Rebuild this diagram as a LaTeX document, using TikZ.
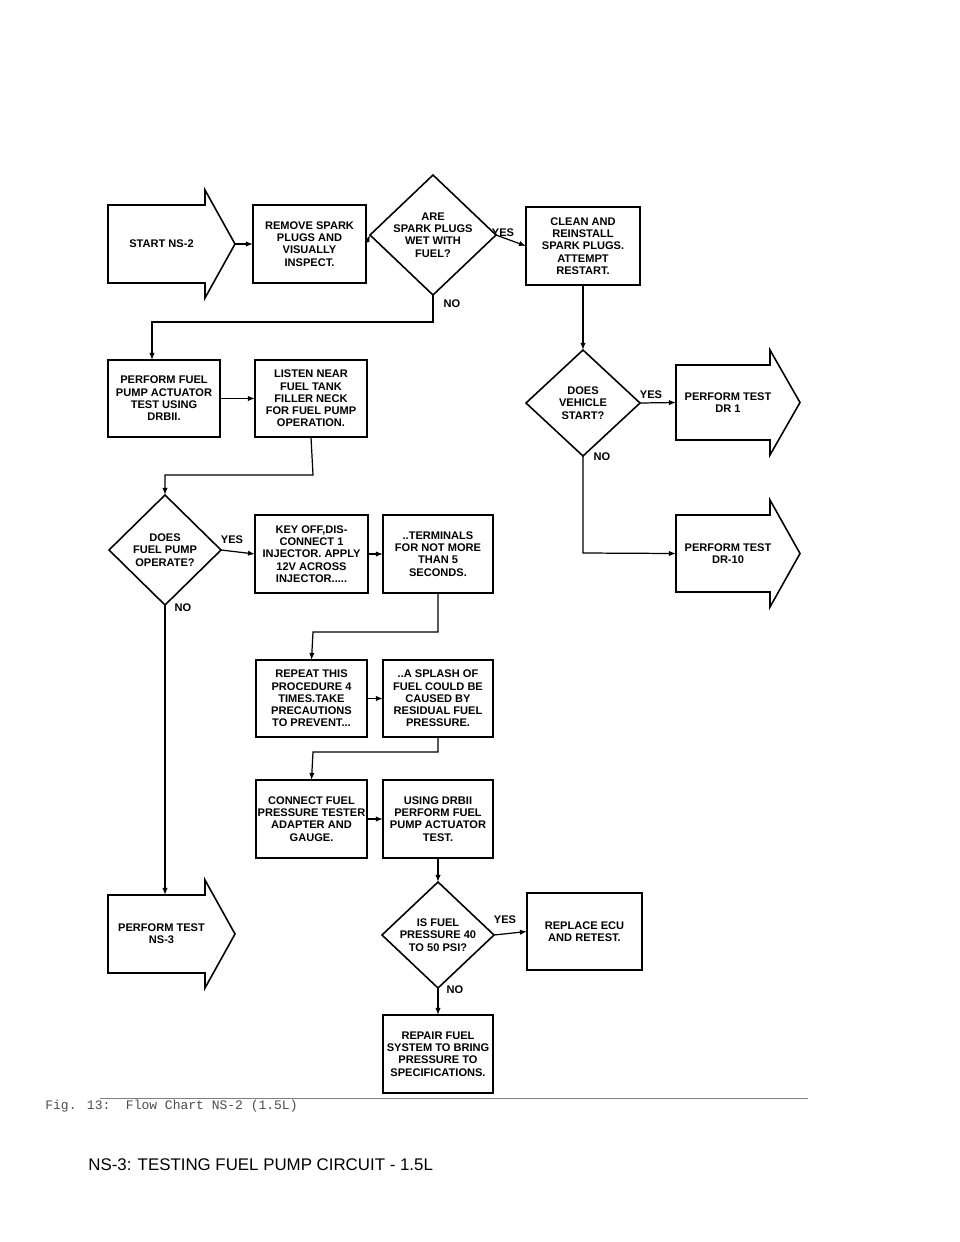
\documentclass[tikz,border=0pt]{standalone}
\usepackage{fontspec}
\setmainfont{Liberation Sans}
\newfontfamily\monof{Liberation Mono}
\usetikzlibrary{arrows.meta}
\begin{document}
\begin{tikzpicture}[x=0.02cm,y=-0.02cm,
  lbl/.style={font=\fontsize{6.3}{7}\selectfont\bfseries,align=center,inner sep=0pt},
  bx/.style={draw,line width=0.9pt},
  arr/.style={line width=0.7pt,-{Latex[length=4pt,width=3pt]}},
  ln/.style={line width=0.7pt}]
\useasboundingbox (0,0) rectangle (960,1242);
\newcommand\bigarrow[6]{% name x1 x2 y1 y2 text
  \draw[bx] (#2,#4) -- (#3,#4) -- (#3,#4-15) -- (#3+30,{(#4+#5)/2}) -- (#3,#5+15) -- (#3,#5) -- (#2,#5) -- cycle;
  \node[lbl] (#1) at ({(#2+#3)/2+5},{(#4+#5)/2}) {#6};
  \coordinate (#1t) at ({(#2+#3)/2},#4);
  \coordinate (#1p) at (#3+30,{(#4+#5)/2});
  \coordinate (#1l) at (#2,{(#4+#5)/2});}
\newcommand\fbx[6]{%
  \draw[bx] (#2,#4) rectangle (#3,#5);
  \node[lbl] (#1) at ({(#2+#3)/2},{(#4+#5)/2}) {#6};
  \coordinate (#1t) at ({(#2+#3)/2},#4);
  \coordinate (#1b) at ({(#2+#3)/2},#5);
  \coordinate (#1l) at (#2,{(#4+#5)/2});
  \coordinate (#1r) at (#3,{(#4+#5)/2});}
\newcommand\dia[6]{% name cx cy hw hh text
  \draw[bx] (#2-#4,#3) -- (#2,#3-#5) -- (#2+#4,#3) -- (#2,#3+#5) -- cycle;
  \node[lbl] (#1) at (#2,#3) {#6};
  \coordinate (#1t) at (#2,#3-#5);
  \coordinate (#1b) at (#2,#3+#5);
  \coordinate (#1l) at (#2-#4,#3);
  \coordinate (#1r) at (#2+#4,#3);}
\bigarrow{st}{108}{205}{205}{283}{START NS-2}
\fbx{rm}{253}{366}{205}{283}{REMOVE SPARK\\PLUGS AND\\VISUALLY\\INSPECT.}
\dia{d1}{433}{235}{63}{60}{ARE\\SPARK PLUGS\\WET WITH\\FUEL?}
\fbx{cl}{526}{640}{207}{285}{CLEAN AND\\REINSTALL\\SPARK PLUGS.\\ATTEMPT\\RESTART.}
\fbx{pf}{108}{220}{360}{437}{PERFORM FUEL\\PUMP ACTUATOR\\TEST USING\\DRBII.}
\fbx{li}{255}{367}{360}{437}{LISTEN NEAR\\FUEL TANK\\FILLER NECK\\FOR FUEL PUMP\\OPERATION.}
\dia{d2}{165}{550}{56}{55}{DOES\\FUEL PUMP\\OPERATE?}
\fbx{ko}{255}{368}{515}{593}{KEY OFF,DIS-\\CONNECT 1\\INJECTOR. APPLY\\12V ACROSS\\INJECTOR.....}
\fbx{te}{383}{493}{515}{593}{..TERMINALS\\FOR NOT MORE\\THAN 5\\SECONDS.}
\bigarrow{ns}{108}{205}{895}{973}{PERFORM TEST\\NS-3}
\fbx{rp}{256}{367}{660}{737}{REPEAT THIS\\PROCEDURE 4\\TIMES.TAKE\\PRECAUTIONS\\TO PREVENT...}
\fbx{sp}{383}{493}{660}{737}{..A SPLASH OF\\FUEL COULD BE\\CAUSED BY\\RESIDUAL FUEL\\PRESSURE.}
\fbx{co}{256}{367}{780}{858}{CONNECT FUEL\\PRESSURE TESTER\\ADAPTER AND\\GAUGE.}
\fbx{us}{383}{493}{780}{858}{USING DRBII\\PERFORM FUEL\\PUMP ACTUATOR\\TEST.}
\dia{d3}{438}{935}{56}{53}{IS FUEL\\PRESSURE 40\\TO 50 PSI?}
\fbx{re}{527}{642}{893}{970}{REPLACE ECU\\AND RETEST.}
\fbx{rf}{383}{493}{1015}{1093}{REPAIR FUEL\\SYSTEM TO BRING\\PRESSURE TO\\SPECIFICATIONS.}
\dia{d4}{583}{403}{57}{53}{DOES\\VEHICLE\\START?}
\bigarrow{t1}{676}{770}{365}{440}{PERFORM TEST\\DR 1}
\bigarrow{t10}{676}{770}{515}{592}{PERFORM TEST\\DR-10}
% connectors
\draw[arr] (stp) -- (rml);
\draw[arr] (rmr) -- (d1l);
\draw[arr] (d1r) -- (cll);
\draw[arr] (d1b) -- (433,322) -- (152,322) -- (152,360);
\draw[arr] (pfr) -- (lil);
\draw[arr] (lib) -- (313,475) -- (165,475) -- (d2t);
\draw[arr] (d2r) -- (kol);
\draw[arr] (kor) -- (tel);
\draw[arr] (d2b) -- (165,895);
\draw[arr] (teb) -- (438,632) -- (313,632) -- (rpt);
\draw[arr] (rpr) -- (spl);
\draw[arr] (spb) -- (438,752) -- (313,752) -- (cot);
\draw[arr] (cor) -- (usl);
\draw[arr] (usb) -- (d3t);
\draw[arr] (d3r) -- (rel);
\draw[arr] (d3b) -- (rft);
\draw[arr] (clb) -- (d4t);
\draw[arr] (d4r) -- (t1l);
\draw[arr] (d4b) -- (583,553) -- (t10l);
% labels
\node[lbl] (y1) at (503,233) {YES};
\node[lbl] (n1) at (452,304) {NO};
\node[lbl] (y2) at (232,540) {YES};
\node[lbl] (n2) at (183,608) {NO};
\node[lbl] (y3) at (505,920) {YES};
\node[lbl] (n3) at (455,990) {NO};
\node[lbl] (y4) at (651,395) {YES};
\node[lbl] (n4) at (602,457) {NO};
% caption
\draw[line width=0.5pt,gray] (100,1098) -- (808,1098);
\node[anchor=west,inner sep=0pt,text=black!70,font=\monof\fontsize{7.4}{8}\selectfont] (cap) at (45,1106) {Fig. 13:\ \ Flow Chart NS-2 (1.5L)};
\node[anchor=west,inner sep=0pt,font=\fontsize{9.6}{11}\selectfont] (ttl) at (88,1165) {NS-3: TESTING FUEL PUMP CIRCUIT - 1.5L};
\end{tikzpicture}
\end{document}
